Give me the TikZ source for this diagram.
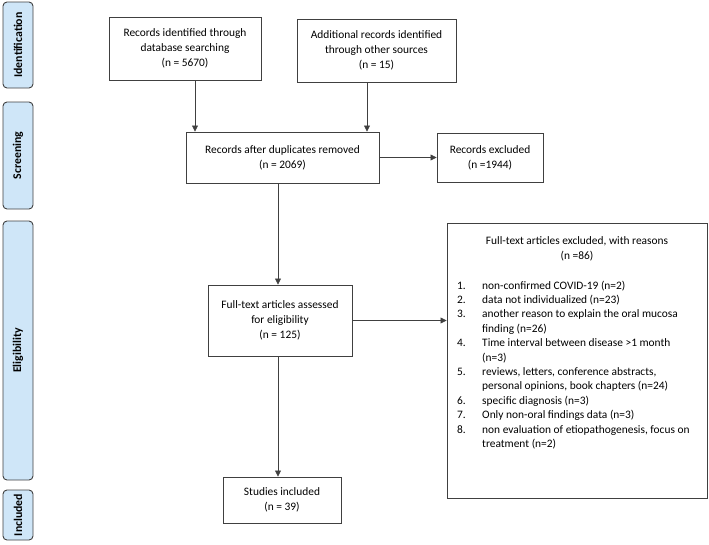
\documentclass[tikz,border=0pt]{standalone}
\usepackage{fontspec}
\setmainfont{Carlito}
\usetikzlibrary{arrows.meta}
\definecolor{phaseblue}{HTML}{CFE6F8}
\definecolor{linegray}{HTML}{404040}
\begin{document}
\begin{tikzpicture}[x=1pt,y=-1pt,
  box/.style={draw=linegray, line width=0.9pt, rectangle, inner sep=0pt, align=center,
    font=\fontsize{11.4}{15}\selectfont},
  phase/.style={draw=linegray, fill=phaseblue, rounded corners=4pt, line width=0.9pt,
    inner sep=0pt, minimum height=30pt, rotate=90, font=\bfseries\fontsize{11.8}{13}\selectfont},
  arr/.style={draw=linegray, line width=0.7pt, -{Triangle[length=6pt,width=6pt]}},
  txt/.style={inner sep=0pt, align=center, font=\fontsize{11.4}{14.4}\selectfont},
  item/.style={inner sep=0pt, anchor=base west, font=\fontsize{11.4}{14.4}\selectfont}]
\useasboundingbox (0,0) rectangle (709,544);
% phase labels
\node[phase, minimum width=86pt]  (pid)  at (18,45)    {Identification};
\node[phase, minimum width=107pt] (pscr) at (18,155.5) {Screening};
\node[phase, minimum width=259pt] (pelg) at (18,350.5) {Eligibility};
\node[phase, minimum width=50pt]  (pinc) at (18,515)   {Included};
% boxes
\node[box, minimum width=152pt, minimum height=63pt] (b1) at (185,48.5)
  {Records identified through\\database searching\\(n = 5670)};
\node[box, minimum width=159pt, minimum height=63pt] (b2) at (376.5,50.5)
  {Additional records identified\\through other sources\\(n = 15)};
\node[box, minimum width=193pt, minimum height=51pt] (b3) at (282.5,157.5)
  {Records after duplicates removed\\(n = 2069)};
\node[box, minimum width=106pt, minimum height=49pt] (ex) at (490,157.5)
  {Records excluded\\(n =1944)};
\node[box, minimum width=144pt, minimum height=71pt] (as) at (280,320.5)
  {Full-text articles assessed\\for eligibility\\(n = 125)};
\node[box, minimum width=118pt, minimum height=46pt] (inc) at (282,500)
  {Studies included\\(n = 39)};
\node[box, minimum width=260pt, minimum height=275pt] (rs) at (577,360.5) {};
\node[txt] (rt) at (577,249) {Full-text articles excluded, with reasons\\(n =86)};
% reasons list
\foreach \k/\num/\line in {0/1./non-confirmed COVID-19 (n=2),
                        1/2./data not individualized (n=23),
                        2/3./another reason to explain the oral mucosa,
                        3//finding (n=26),
                        4/4./Time interval between disease >1 month,
                        5//(n=3),
                        6/5./{reviews, letters, conference abstracts,},
                        7//{personal opinions, book chapters (n=24)},
                        8/6./specific diagnosis (n=3),
                        9/7./Only non-oral findings data (n=3),
                        10/8./{non evaluation of etiopathogenesis, focus on},
                        11//treatment (n=2)} {
  \node[item] (n\k) at (457,289+14.4*\k) {\num};
  \node[item] (t\k) at (482,289+14.4*\k) {\line};
}
% connectors
\draw[arr] ([xshift=10pt]b1.south) -- ([xshift=10pt]b1.south |- b3.north);
\draw[arr] ([xshift=-9.5pt]b2.south) -- ([xshift=-9.5pt]b2.south |- b3.north);
\draw[arr] (b3.east) -- (b3.east -| ex.west);
\draw[arr] ([xshift=-2pt]as.north |- b3.south) -- ([xshift=-2pt]as.north);
\draw[arr] (as.east) -- (as.east -| rs.west);
\draw[arr] ([xshift=-2pt]as.south) -- ([xshift=-2pt]as.south |- inc.north);
\end{tikzpicture}
\end{document}
